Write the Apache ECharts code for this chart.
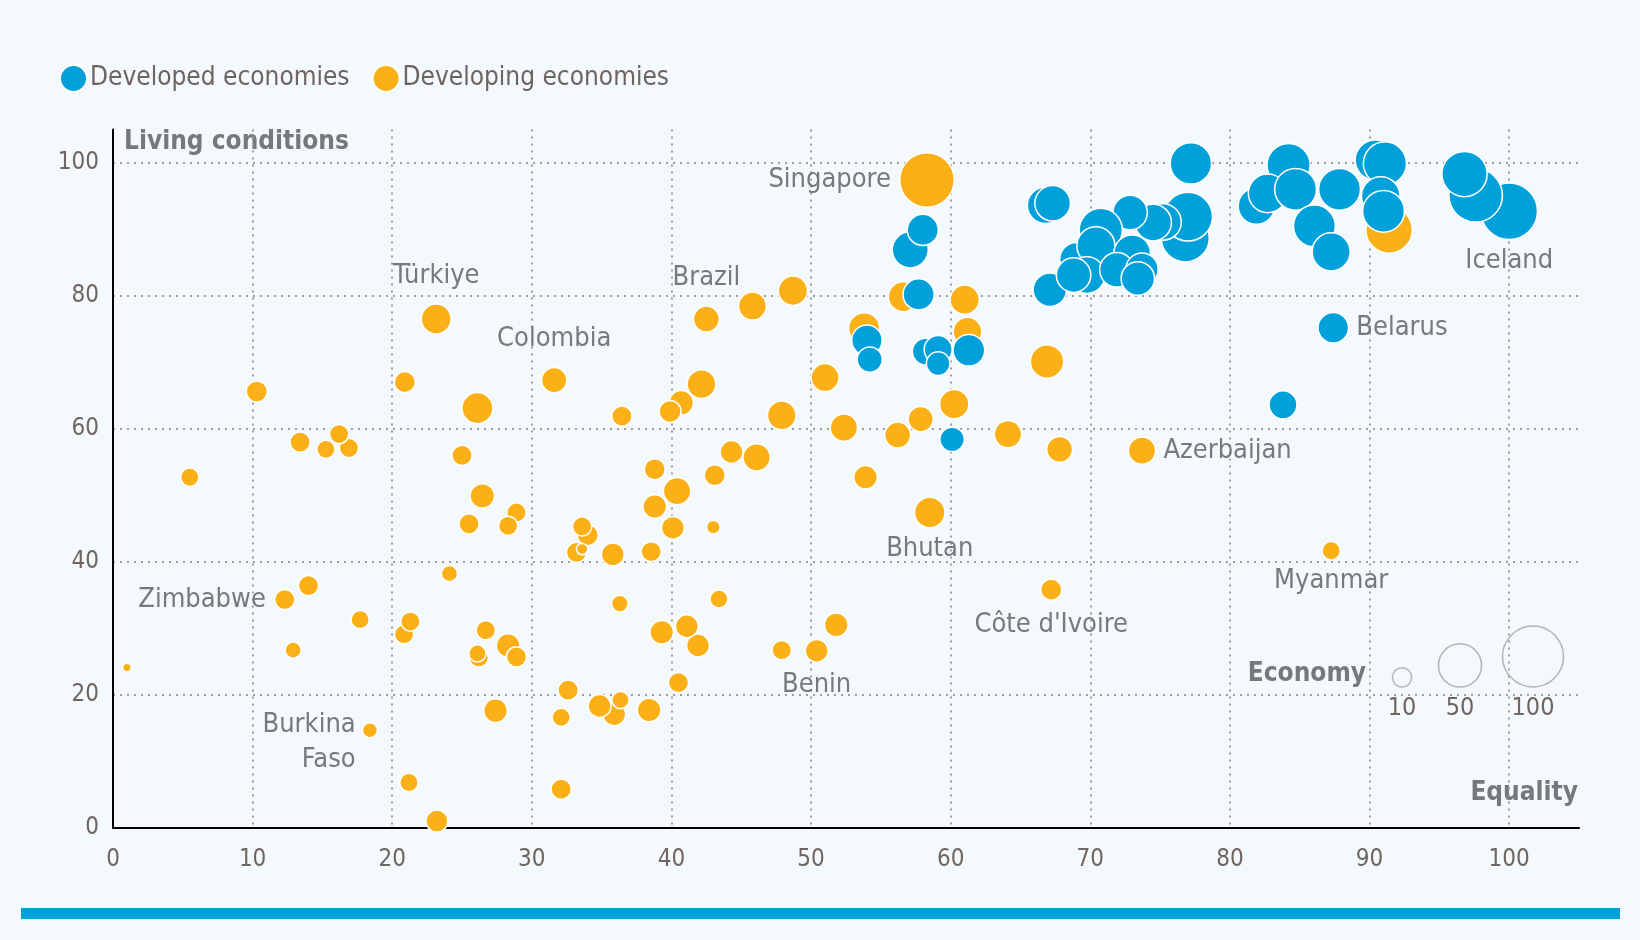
<!DOCTYPE html>
<html>
<head>
<meta charset="utf-8">
<script src="https://cdn.jsdelivr.net/npm/echarts@6/dist/echarts.min.js"></script>
<style>
  html, body { margin: 0; padding: 0; background: #f3f9fd; }
  #chart { width: 1640px; height: 940px; }
</style>
</head>
<body>
<div id="chart"></div>
<script>
// [equality, living conditions, economy, name]
var developed = [
    [57.1, 86.9, 35], [58.0, 89.9, 26], [57.7, 80.2, 26],
    [54.0, 73.3, 25], [54.2, 70.4, 17],
    [58.2, 71.6, 19], [59.1, 71.9, 21], [59.1, 69.8, 15],
    [61.3, 71.8, 27], [60.1, 58.4, 16],
    [66.8, 93.6, 36], [67.3, 93.9, 34], [67.1, 80.9, 30],
    [77.2, 99.9, 46], [76.8, 88.7, 62], [77.0, 91.9, 64],
    [75.2, 91.1, 36], [74.5, 91.0, 36], [72.85, 92.5, 32],
    [70.75, 89.9, 50], [69.0, 85.5, 30], [70.4, 87.5, 39],
    [73.0, 86.4, 36], [69.75, 83.1, 36], [68.8, 83.1, 32],
    [71.9, 83.9, 32], [73.7, 84.0, 28], [73.4, 82.6, 30],
    [81.9, 93.5, 36], [84.2, 99.65, 50], [82.7, 95.4, 40],
    [84.7, 96.0, 47], [86.05, 90.5, 47], [87.25, 86.6, 39],
    [87.85, 96.0, 47], [90.4, 100.4, 43], [91.1, 99.9, 50],
    [90.8, 95.0, 40], [91.0, 92.7, 47],
    [100.0, 92.7, 86, 'Iceland'], [97.6, 95.1, 77], [96.8, 98.3, 55],
    [87.4, 75.2, 25, 'Belarus'], [83.8, 63.6, 21]
];

var developing = [
    [1.0, 24.1, 2], [5.5, 52.7, 9], [10.3, 65.6, 12], [13.4, 58.0, 11],
    [15.25, 56.9, 9], [16.9, 57.1, 10], [16.2, 59.2, 10], [20.9, 67.0, 12],
    [23.15, 76.5, 24, 'Türkiye'], [26.1, 63.1, 26], [25.0, 56.0, 11],
    [26.45, 49.9, 16], [25.5, 45.7, 11], [28.9, 47.4, 10], [28.3, 45.4, 10],
    [24.1, 38.2, 7], [14.0, 36.4, 11], [12.3, 34.3, 11, 'Zimbabwe'],
    [17.7, 31.3, 9], [20.85, 29.1, 10], [21.3, 31.0, 10], [12.9, 26.7, 7],
    [26.7, 29.7, 10], [28.3, 27.4, 15], [28.9, 25.7, 11], [26.2, 25.6, 10],
    [26.1, 26.2, 8], [27.4, 17.6, 15], [18.4, 14.65, 6, 'Burkina\nFaso'],
    [21.2, 6.8, 9], [23.2, 1.0, 13],
    [31.6, 67.3, 17, 'Colombia'], [36.45, 61.9, 11], [40.7, 63.9, 16],
    [39.9, 62.6, 13], [42.15, 66.7, 22], [42.5, 76.5, 18, 'Brazil'],
    [45.8, 78.45, 21], [48.7, 80.75, 23], [47.9, 62.0, 22], [51.0, 67.7, 21],
    [52.35, 60.15, 20], [53.8, 75.1, 26], [56.6, 79.85, 24],
    [58.3, 97.4, 80, 'Singapore'], [61.0, 79.4, 23], [61.2, 74.6, 22],
    [56.2, 59.05, 18], [57.85, 61.45, 17], [60.25, 63.7, 23], [53.9, 52.7, 15],
    [58.5, 47.4, 25, 'Bhutan'], [44.3, 56.5, 14], [46.1, 55.7, 20],
    [43.1, 53.0, 12], [38.8, 53.9, 12], [40.4, 50.6, 20], [38.8, 48.3, 15],
    [40.1, 45.1, 14], [43.0, 45.2, 5], [38.55, 41.5, 11], [35.8, 41.1, 14],
    [34.0, 44.0, 12], [33.6, 45.3, 10], [33.2, 41.4, 11], [33.6, 41.9, 3.5],
    [36.3, 33.7, 7.5], [43.4, 34.4, 8.7], [39.3, 29.4, 15], [41.9, 27.4, 14],
    [41.1, 30.3, 14], [47.9, 26.7, 10], [50.4, 26.6, 14, 'Benin'],
    [51.8, 30.5, 15], [40.5, 21.8, 11], [32.6, 20.7, 11], [32.1, 16.6, 9],
    [35.9, 17.05, 14], [34.85, 18.3, 14], [36.35, 19.2, 8], [38.4, 17.7, 15],
    [32.1, 5.8, 11], [66.9, 70.1, 30], [64.1, 59.2, 20], [67.8, 56.9, 18],
    [73.7, 56.7, 20, 'Azerbaijan'], [67.2, 35.8, 12, "Côte d'Ivoire"],
    [87.25, 41.65, 9, 'Myanmar'], [91.4, 89.9, 58]
];

var sizeLegend = [10, 50, 100];
var seriesNames = ['Developed economies', 'Developing economies'];

var BLUE = '#00a0db';
var ORANGE = '#fcb017';
var FONT = "'Liberation Sans Narrow', 'DejaVu Sans Condensed', sans-serif";

// label side and gap for named points
var labelPlace = {
    'Iceland': ['bottom', 3],
    'Belarus': ['right', 7],
    'Türkiye': ['top', 10],
    'Zimbabwe': ['left', 8],
    'Burkina\nFaso': ['left', 6],
    'Colombia': ['top', 10],
    'Brazil': ['top', 10],
    'Singapore': ['left', 8],
    'Bhutan': ['bottom', 3],
    'Benin': ['bottom', 4],
    'Azerbaijan': ['right', 7],
    "Côte d'Ivoire": ['bottom', 7],
    'Myanmar': ['bottom', 3]
};

function radius(v) {
    return 3.05 * Math.sqrt(v);
}

function toItems(list) {
    return list.map(function (d) {
        var item = { value: [d[0], d[1], d[2]] };
        if (d[3]) {
            var p = labelPlace[d[3]];
            item.name = d[3];
            item.label = {
                show: true,
                formatter: d[3],
                position: p[0],
                distance: p[1],
                color: '#77797c',
                fontSize: 27,
                lineHeight: 35,
                fontFamily: FONT,
                offset: d[3] === 'Burkina\nFaso' ? [0, 12] : [0, 0]
            };
        }
        return item;
    });
}

var chart = echarts.init(document.getElementById('chart'));

// size legend circles, bottoms aligned
var sizeX = [1402, 1460, 1533];
var graphics = [];
sizeLegend.forEach(function (v, i) {
    var r = radius(v);
    graphics.push({
        type: 'circle',
        shape: { cx: sizeX[i], cy: 687 - r, r: r },
        style: { fill: 'none', stroke: '#b4b4b4', lineWidth: 1.5 }
    });
    graphics.push({
        type: 'text',
        x: sizeX[i], y: 708,
        style: {
            text: String(v), fill: '#6f6561', font: '25px ' + FONT,
            textAlign: 'center', textVerticalAlign: 'middle'
        }
    });
});
graphics.push(
    {
        type: 'text', x: 1366, y: 674,
        style: {
            text: 'Economy', fill: '#77787b', font: 'bold 26px ' + FONT,
            textAlign: 'right', textVerticalAlign: 'middle'
        }
    },
    {
        type: 'text', x: 1578, y: 793,
        style: {
            text: 'Equality', fill: '#77787b', font: 'bold 26px ' + FONT,
            textAlign: 'right', textVerticalAlign: 'middle'
        }
    },
    {
        type: 'text', x: 124, y: 142,
        style: {
            text: 'Living conditions', fill: '#77787b', font: 'bold 26px ' + FONT,
            textAlign: 'left', textVerticalAlign: 'middle'
        }
    },
    {
        type: 'rect',
        shape: { x: 21, y: 908, width: 1599, height: 11 },
        style: { fill: '#009fda' }
    }
);

var gridLine = {
    show: true,
    showMinLine: false,
    showMaxLine: false,
    lineStyle: { color: '#a39b96', width: 2, type: [2, 5] }
};

var option = {
    backgroundColor: '#f3f9fd',
    animation: false,
    legend: {
        left: 54,
        top: 59,
        itemWidth: 27,
        itemHeight: 27,
        itemGap: 22,
        icon: 'circle',
        data: seriesNames,
        textStyle: { color: '#6d6461', fontSize: 26, fontFamily: FONT, padding: [0, 0, 0, -2] }
    },
    grid: {
        left: 113,
        right: 61,
        top: 129.5,
        bottom: 112.3,
        outerBoundsMode: 'none'
    },
    xAxis: {
        type: 'value',
        min: 0,
        max: 105,
        interval: 10,
        axisLine: { show: true, lineStyle: { color: '#000', width: 2 } },
        axisTick: { show: false },
        axisLabel: {
            showMaxLabel: false,
            margin: 20,
            color: '#6f6561',
            fontSize: 24,
            fontFamily: FONT
        },
        splitLine: gridLine
    },
    yAxis: {
        type: 'value',
        min: 0,
        max: 105,
        interval: 20,
        axisLine: { show: true, lineStyle: { color: '#000', width: 2 } },
        axisTick: { show: false },
        axisLabel: {
            showMaxLabel: false,
            margin: 14,
            color: '#6f6561',
            fontSize: 24,
            fontFamily: FONT
        },
        splitLine: gridLine
    },
    graphic: graphics,
    series: [
        {
            name: seriesNames[1],
            type: 'scatter',
            z: 2,
            silent: true,
            data: toItems(developing),
            symbolSize: function (d) { return 2 * radius(d[2]); },
            itemStyle: { color: ORANGE, opacity: 1, borderColor: '#ffffff', borderWidth: 1.5 }
        },
        {
            name: seriesNames[0],
            type: 'scatter',
            z: 3,
            silent: true,
            data: toItems(developed),
            symbolSize: function (d) { return 2 * radius(d[2]); },
            itemStyle: { color: BLUE, opacity: 1, borderColor: '#ffffff', borderWidth: 1.5 }
        }
    ]
};

chart.setOption(option);
</script>
</body>
</html>
